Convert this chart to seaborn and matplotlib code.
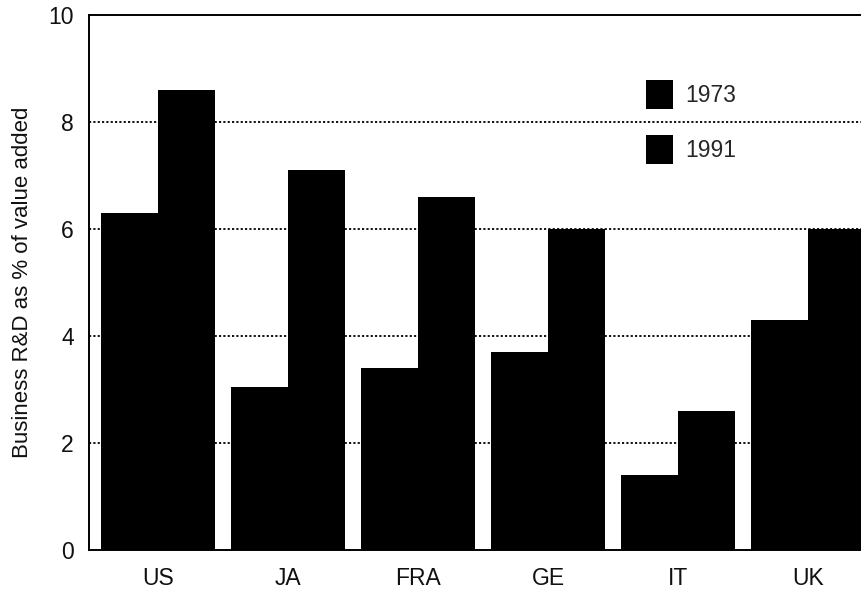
import matplotlib
matplotlib.use("Agg")
import matplotlib.pyplot as plt
import seaborn as sns
import pandas as pd

# data
countries = ["US", "JA", "FRA", "GE", "IT", "UK"]
rd_1973 = [6.3, 3.05, 3.4, 3.7, 1.4, 4.3]
rd_1991 = [8.6, 7.1, 6.6, 6.0, 2.6, 6.0]
years = ["1973", "1991"]

df = pd.DataFrame({
    "country": countries * 2,
    "year": [years[0]] * len(countries) + [years[1]] * len(countries),
    "value": rd_1973 + rd_1991,
})

sns.set_theme(style="white")
plt.rcParams["font.family"] = ["Liberation Sans", "DejaVu Sans"]

fig = plt.figure(figsize=(8.62, 5.9), dpi=100)
ax = fig.add_axes([89 / 862, 40 / 590, 1 - 89 / 862, 535 / 590])

sns.barplot(data=df, x="country", y="value", hue="year", order=countries,
            hue_order=years, palette=["black", "black"], width=0.88,
            linewidth=0, edgecolor="black", ax=ax, zorder=3)

# dotted gridlines behind the bars
for yv in [2, 4, 6, 8]:
    ax.axhline(yv, color="black", linestyle=(0, (1.2, 1.2)), linewidth=1.3, zorder=1)

ax.set_ylim(0, 10)
ax.set_xlim(-0.53, 5.415)
ax.set_yticks([0, 2, 4, 6, 8, 10])
ax.set_xlabel("")
ax.set_ylabel("Business R&D as % of value added", fontsize=16, color="#111111", labelpad=11)
ax.tick_params(axis="both", length=0, labelsize=16.5, colors="#111111")
ax.tick_params(axis="y", pad=11)
ax.tick_params(axis="x", pad=12)

for side in ["left", "top", "bottom"]:
    ax.spines[side].set_color("black")
    ax.spines[side].set_linewidth(1.4)
ax.spines["right"].set_visible(False)

ax.legend(loc="upper left", bbox_to_anchor=(0.72, 0.878), frameon=False,
          borderpad=0, borderaxespad=0, handlelength=1.2, handleheight=1.55,
          labelspacing=1.15, handletextpad=0.55, fontsize=16.5)

fig.savefig("out.png", dpi=100, facecolor="white")
